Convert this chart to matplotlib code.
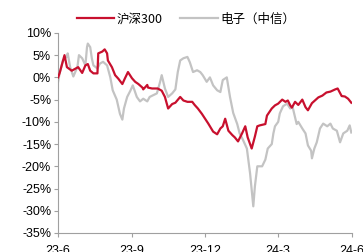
import pandas as pd
import matplotlib
matplotlib.use("Agg")
import matplotlib.pyplot as plt

plt.rcParams['font.family'] = ['Liberation Sans', 'Noto Sans CJK SC', 'DejaVu Sans']

# 沪深300 cumulative return (%)
hs300_dates = [
    "2023-06-01", "2023-06-03", "2023-06-09", "2023-06-12", "2023-06-18", "2023-06-26",
    "2023-07-01", "2023-07-05", "2023-07-08", "2023-07-11", "2023-07-15", "2023-07-20",
    "2023-07-21", "2023-07-26", "2023-07-29", "2023-08-01", "2023-08-02", "2023-08-07",
    "2023-08-11", "2023-08-15", "2023-08-20", "2023-08-23", "2023-08-27", "2023-09-01",
    "2023-09-05", "2023-09-09", "2023-09-14", "2023-09-15", "2023-09-20", "2023-09-21",
    "2023-09-26", "2023-10-03", "2023-10-08", "2023-10-12", "2023-10-16", "2023-10-21",
    "2023-10-25", "2023-10-31", "2023-11-04", "2023-11-09", "2023-11-15", "2023-11-18",
    "2023-11-22", "2023-11-27", "2023-12-01", "2023-12-05", "2023-12-07", "2023-12-11",
    "2023-12-16", "2023-12-20", "2023-12-23", "2023-12-26", "2023-12-30", "2024-01-04",
    "2024-01-07", "2024-01-11", "2024-01-16", "2024-01-20", "2024-01-23", "2024-01-28",
    "2024-02-01", "2024-02-04", "2024-02-07", "2024-02-14", "2024-02-16", "2024-02-22",
    "2024-02-26", "2024-03-01", "2024-03-06", "2024-03-10", "2024-03-13", "2024-03-16",
    "2024-03-18", "2024-03-22", "2024-03-26", "2024-03-31", "2024-04-04", "2024-04-07",
    "2024-04-12", "2024-04-20", "2024-04-25", "2024-04-30", "2024-05-05", "2024-05-11",
    "2024-05-14", "2024-05-19", "2024-05-23", "2024-05-27", "2024-05-31",
]
hs300_vals = [
    0.0, 1.0, 5.0, 2.3, 1.5, 2.3,
    1.0, 2.7, 3.0, 1.5, 0.9, 0.9,
    5.4, 5.8, 6.3, 5.4, 3.8, 2.3,
    0.5, -0.3, -1.5, -0.3, 1.2, -0.2,
    -1.0, -1.5, -2.3, -2.7, -1.7, -2.3,
    -2.5, -2.5, -3.0, -4.4, -7.0, -6.0,
    -5.7, -4.4, -5.2, -5.5, -5.5, -6.2,
    -7.0, -8.2, -9.3, -10.4, -11.0, -12.2,
    -12.8, -11.5, -11.0, -9.3, -12.0, -13.0,
    -13.5, -14.4, -12.6, -11.0, -13.5, -16.0,
    -13.3, -11.0, -10.8, -10.5, -8.6, -7.0,
    -6.3, -5.9, -5.0, -5.5, -5.2, -6.3,
    -6.8, -5.5, -6.2, -5.0, -6.7, -7.4,
    -5.8, -4.5, -4.1, -3.4, -3.2, -2.7,
    -2.5, -4.2, -4.3, -4.8, -5.7,
]

# 电子（中信） cumulative return (%)
elec_dates = [
    "2023-06-01", "2023-06-03", "2023-06-07", "2023-06-12", "2023-06-13", "2023-06-16",
    "2023-06-20", "2023-06-25", "2023-06-27", "2023-07-01", "2023-07-05", "2023-07-07",
    "2023-07-08", "2023-07-11", "2023-07-13", "2023-07-15", "2023-07-20", "2023-07-23",
    "2023-07-27", "2023-08-01", "2023-08-05", "2023-08-08", "2023-08-13", "2023-08-17",
    "2023-08-20", "2023-08-22", "2023-08-26", "2023-08-30", "2023-09-02", "2023-09-07",
    "2023-09-11", "2023-09-15", "2023-09-20", "2023-09-23", "2023-10-02", "2023-10-06",
    "2023-10-08", "2023-10-12", "2023-10-16", "2023-10-21", "2023-10-25", "2023-10-28",
    "2023-10-31", "2023-11-04", "2023-11-09", "2023-11-12", "2023-11-16", "2023-11-21",
    "2023-11-25", "2023-11-28", "2023-12-03", "2023-12-07", "2023-12-11", "2023-12-16",
    "2023-12-20", "2023-12-23", "2023-12-28", "2024-01-01", "2024-01-05", "2024-01-10",
    "2024-01-13", "2024-01-17", "2024-01-22", "2024-01-26", "2024-01-30", "2024-02-01",
    "2024-02-04", "2024-02-10", "2024-02-14", "2024-02-17", "2024-02-22", "2024-02-24",
    "2024-02-26", "2024-03-01", "2024-03-03", "2024-03-07", "2024-03-12", "2024-03-16",
    "2024-03-19", "2024-03-22", "2024-03-24", "2024-03-26", "2024-03-31", "2024-04-04",
    "2024-04-07", "2024-04-11", "2024-04-12", "2024-04-15", "2024-04-18", "2024-04-22",
    "2024-04-26", "2024-05-01", "2024-05-05", "2024-05-08", "2024-05-13", "2024-05-17",
    "2024-05-21", "2024-05-26", "2024-05-29", "2024-05-31",
]
elec_vals = [
    -1.0, 1.0, 3.8, 4.7, 5.4, 2.3,
    0.2, 2.3, 5.0, 4.3, 2.7, 6.8,
    7.6, 6.8, 4.3, 2.7, 2.0, 3.1,
    3.5, 2.7, 0.0, -2.9, -5.0, -8.2,
    -9.5, -7.0, -4.4, -3.0, -1.8, -4.4,
    -5.4, -4.8, -5.4, -4.4, -3.6, -1.0,
    0.5, -2.5, -4.4, -3.6, -2.7, 1.2,
    3.8, 4.3, 4.6, 3.4, 1.2, 1.6,
    1.2, 0.5, -1.0, 0.0, -1.8, -2.9,
    -3.3, -0.6, 0.0, -4.4, -8.0, -10.5,
    -12.6, -14.0, -16.0, -21.6, -29.0, -24.5,
    -20.0, -20.0, -18.5, -16.0, -15.0, -12.6,
    -11.0, -10.0, -8.1, -6.5, -5.9, -7.0,
    -6.7, -9.0, -10.5, -10.0, -11.5, -12.6,
    -15.3, -16.5, -18.2, -16.0, -14.6, -11.5,
    -10.4, -11.0, -10.4, -11.5, -12.0, -14.6,
    -12.6, -12.0, -10.8, -12.4,
]

tick_dates = ["2023-06-01", "2023-09-01", "2023-12-01", "2024-03-01", "2024-06-01"]
tick_labels = ["23-6", "23-9", "23-12", "24-3", "24-6"]
y_ticks = [10, 5, 0, -5, -10, -15, -20, -25, -30, -35]

fig = plt.figure(figsize=(3.63, 2.52), dpi=100)
ax = fig.add_axes([0.160, 0.0754, 0.810, 0.794])

ax.plot(pd.to_datetime(elec_dates), elec_vals, color="#C3C3C3", lw=1.6,
        label="电子（中信）", zorder=2)
ax.plot(pd.to_datetime(hs300_dates), hs300_vals, color="#C8102E", lw=1.6,
        label="沪深300", zorder=3)

ax.set_xlim(pd.Timestamp("2023-06-01"), pd.Timestamp("2024-06-01"))
ax.set_ylim(-35, 10)
ax.set_yticks(y_ticks)
ax.set_yticklabels([f"{v}%" for v in y_ticks])
ax.set_xticks(pd.to_datetime(tick_dates))
ax.set_xticklabels(tick_labels)

for s in ["top", "right"]:
    ax.spines[s].set_visible(False)
for s in ["left", "bottom"]:
    ax.spines[s].set_color("#A0A0A0")
    ax.spines[s].set_linewidth(0.8)
ax.tick_params(axis="both", colors="#A0A0A0", labelcolor="black",
               labelsize=9, length=3, width=0.8)
ax.tick_params(axis="x", pad=6)
ax.tick_params(axis="y", pad=2)

h, l = ax.get_legend_handles_labels()
fig.legend(h[::-1], l[::-1], loc="center", bbox_to_anchor=(0.513, 0.925),
           ncol=2, frameon=False, handlelength=3.0,
           columnspacing=1.4, handletextpad=0.2, borderaxespad=0.0,
           prop={"family": ["Noto Sans CJK SC", "Liberation Sans"], "size": 9})

fig.savefig("out.png", dpi=100)
